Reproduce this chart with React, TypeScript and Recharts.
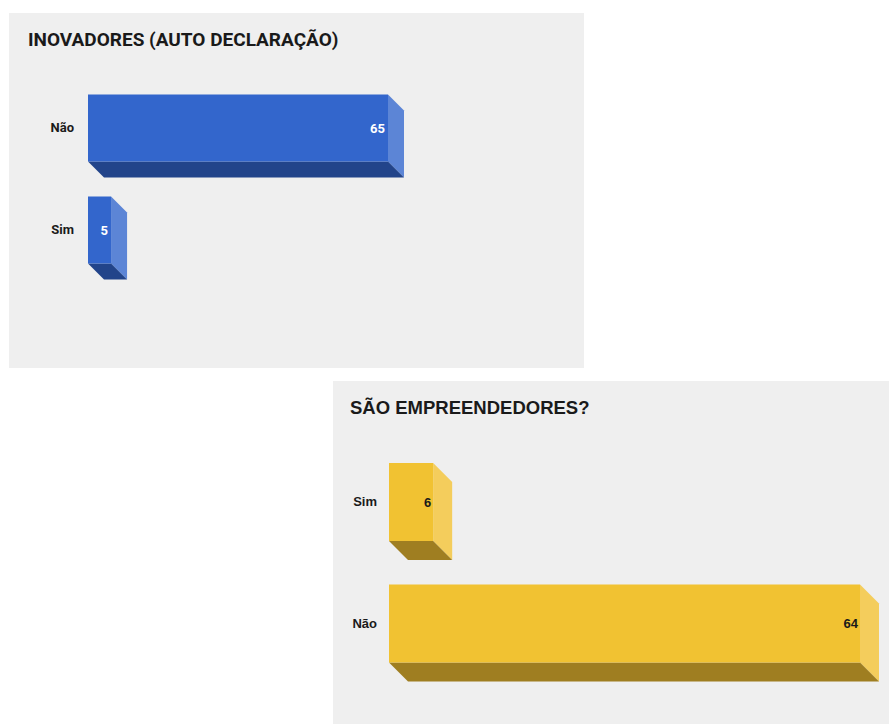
import React from 'react'
import { BarChart, Bar, XAxis, YAxis, LabelList } from 'recharts'

const INOV_CATEGORIES = ['Não', 'Sim']
const INOV_VALUES = [65, 5]
const EMPR_CATEGORIES = ['Sim', 'Não']
const EMPR_VALUES = [6, 64]

const BG = '#efefef'

const inovData = INOV_CATEGORIES.map((name, i) => ({ name, value: INOV_VALUES[i] }))
const emprData = EMPR_CATEGORIES.map((name, i) => ({ name, value: EMPR_VALUES[i] }))

function makeBox(front: string, side: string, bottom: string, d: number) {
  return (props: any) => {
    const { x, y, width: w, height: h } = props
    if (w == null || h == null) return null
    return (
      <g>
        <polygon
          points={`${x + w},${y} ${x + w + d},${y + d} ${x + w + d},${y + h + d} ${x + w},${y + h}`}
          fill={side}
        />
        <polygon
          points={`${x},${y + h} ${x + w},${y + h} ${x + w + d},${y + h + d} ${x + d},${y + h + d}`}
          fill={bottom}
        />
        <rect x={x} y={y} width={w} height={h} fill={front} />
      </g>
    )
  }
}

const blueBox = makeBox('#3366cc', '#5c85d6', '#22448a', 16)
const yellowBox = makeBox('#f1c232', '#f4cd5c', '#9f7e21', 19)

const ROBOTO = 'Roboto, sans-serif'
const ARIAL = '"Liberation Sans", Arial, sans-serif'

export default function App() {
  return (
    <div style={{ position: 'absolute', left: 0, top: 0, width: 889, height: 724, background: '#fff' }}>
      <div style={{ position: 'absolute', left: 9, top: 13, width: 575, height: 355, background: BG }}>
        <div
          style={{
            position: 'absolute',
            left: 19,
            top: 15,
            fontFamily: ROBOTO,
            fontWeight: 700,
            fontSize: 19,
            color: '#1a1a1a',
            whiteSpace: 'nowrap',
          }}
        >
          INOVADORES (AUTO DECLARAÇÃO)
        </div>
        <BarChart
          width={575}
          height={355}
          layout="vertical"
          data={inovData}
          margin={{ top: 63.5, right: 196, bottom: 87.5, left: 0 }}
          style={{ position: 'absolute', left: 0, top: 0 }}
        >
          <XAxis type="number" domain={[0, 65]} hide />
          <YAxis
            type="category"
            dataKey="name"
            width={79}
            axisLine={false}
            tickLine={false}
            tickSize={0}
            tickMargin={14}
            tick={{ fontSize: 13, fontWeight: 700, fill: '#1a1a1a', fontFamily: ROBOTO }}
          />
          <Bar dataKey="value" barSize={67} shape={blueBox} isAnimationActive={false}>
            <LabelList
              dataKey="value"
              position="insideRight"
              offset={3}
              style={{ fontSize: 13, fontWeight: 700, fill: '#fff', fontFamily: ROBOTO }}
            />
          </Bar>
        </BarChart>
      </div>

      <div style={{ position: 'absolute', left: 333, top: 381, width: 556, height: 343, background: BG }}>
        <div
          style={{
            position: 'absolute',
            left: 17,
            top: 16,
            fontFamily: ARIAL,
            fontWeight: 700,
            fontSize: 18.5,
            color: '#1a1a1a',
            whiteSpace: 'nowrap',
          }}
        >
          SÃO EMPREENDEDORES?
        </div>
        <BarChart
          width={556}
          height={343}
          layout="vertical"
          data={emprData}
          margin={{ top: 60, right: 29, bottom: 40, left: 0 }}
          style={{ position: 'absolute', left: 0, top: 0 }}
        >
          <XAxis type="number" domain={[0, 64]} hide />
          <YAxis
            type="category"
            dataKey="name"
            width={56}
            axisLine={false}
            tickLine={false}
            tickSize={0}
            tickMargin={12}
            tick={{ fontSize: 13, fontWeight: 700, fill: '#1a1a1a', fontFamily: ARIAL }}
          />
          <Bar dataKey="value" barSize={78} shape={yellowBox} isAnimationActive={false}>
            <LabelList
              dataKey="value"
              position="insideRight"
              offset={2}
              style={{ fontSize: 13, fontWeight: 700, fill: '#1a1a1a', fontFamily: ARIAL }}
            />
          </Bar>
        </BarChart>
      </div>
    </div>
  )
}
